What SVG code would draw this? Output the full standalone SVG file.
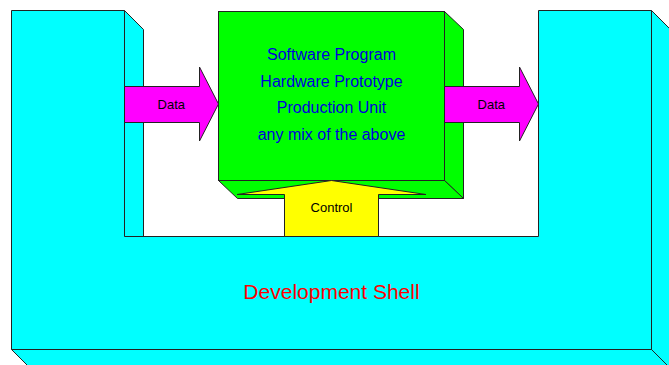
<svg xmlns="http://www.w3.org/2000/svg" width="669" height="365" viewBox="0 0 669 365">
<style>
.edge{stroke:#222;stroke-width:1;stroke-linejoin:miter}
.cyan{fill:#00ffff}
.green{fill:#00ff00}
.mag{fill:#ff00ff}
.yel{fill:#ffff00}
text{font-family:"Liberation Sans",Arial,sans-serif;text-anchor:middle}
.lbl{font-size:13px;fill:#000}
.unit{font-size:16px;fill:#0000dd}
.shell{font-size:21px;fill:#ff0000}
</style>
<rect x="0" y="0" width="669" height="365" fill="#fff"/>
<g id="shell">
<polygon class="cyan edge" points="124.5,10.5 143.5,29.5 143.5,236.5 124.5,236.5"/>
<polygon class="cyan edge" points="651.5,10.5 670.5,29.5 670.5,368.5 651.5,349.5"/>
<polygon class="cyan edge" points="11.5,349.5 30.5,368.5 670.5,368.5 651.5,349.5"/>
<polygon class="cyan edge" points="11.5,10.5 124.5,10.5 124.5,236.5 538.5,236.5 538.5,10.5 651.5,10.5 651.5,349.5 11.5,349.5"/>
<text class="shell" x="331.5" y="298.5">Development Shell</text>
</g>
<g id="unit">
<polygon class="green edge" points="444.5,11.5 463.5,29.5 463.5,198.5 444.5,180.5"/>
<polygon class="green edge" points="218.5,180.5 237.5,198.5 463.5,198.5 444.5,180.5"/>
<rect class="green edge" x="218.5" y="11.5" width="226" height="169"/>
<text class="unit" x="331.5" y="60">Software Program</text>
<text class="unit" x="331.5" y="86.7">Hardware Prototype</text>
<text class="unit" x="331.5" y="113.3">Production Unit</text>
<text class="unit" x="331.5" y="140">any mix of the above</text>
</g>
<g id="connectors">
<g id="data-in">
<polygon class="mag edge" points="124.5,86.5 199.5,86.5 199.5,67 218.5,104 199.5,141 199.5,122.5 124.5,122.5"/>
<text class="lbl" x="171.3" y="108.5">Data</text>
</g>
<g id="data-out">
<polygon class="mag edge" points="444.5,86.5 519.5,86.5 519.5,67 538.5,104 519.5,141 519.5,122.5 444.5,122.5"/>
<text class="lbl" x="491.3" y="108.5">Data</text>
</g>
<g id="control">
<polygon class="yel edge" points="237,194.5 331.5,180.5 426,194.5 378.5,194.5 378.5,236.5 284.5,236.5 284.5,194.5"/>
<text class="lbl" x="331.5" y="212">Control</text>
</g>
</g>
</svg>
